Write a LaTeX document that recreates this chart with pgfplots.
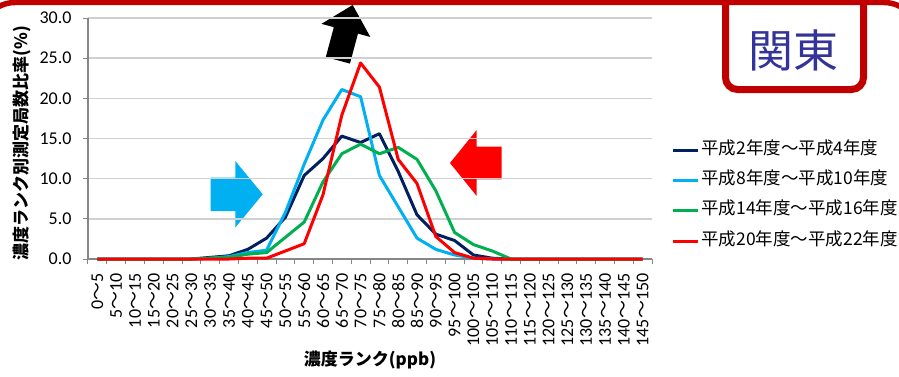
\documentclass[border=0pt]{standalone}
\usepackage{pgfplots}
\pgfplotsset{compat=1.18}
\usepackage{fontspec}
\setmainfont{Carlito}
\newfontfamily\jp{Noto Sans CJK JP}
\definecolor{framered}{HTML}{C00000}
\definecolor{navyline}{HTML}{002060}
\definecolor{skyline}{HTML}{00B0F0}
\definecolor{greenline}{HTML}{00B050}
\definecolor{redline}{HTML}{FF0000}
\definecolor{kanto}{HTML}{333399}
\definecolor{gridgray}{HTML}{D0D0D0}
\definecolor{axisgray}{HTML}{868686}
\newcommand\T{{\jp ～}}

\begin{document}
\begin{tikzpicture}[x=1pt,y=1pt]
\useasboundingbox (0,0) rectangle (899,376);
% region box
\draw[framered, line width=7pt, fill=white, rounded corners=12pt]
  (725.5,286.5) rectangle (863.5,420);
% outer frame (top edge only shows)
\draw[framered, line width=5.5pt, rounded corners=34pt]
  (-19,250) -- (-19,373.5) -- (918,373.5) -- (918,250);
\node[kanto, font=\jp\fontsize{45}{45}\selectfont] at (793,326) {関東};

% trend arrows
\fill[skyline] (210.7,198.3) -- (235.3,198.3) -- (235.3,215) -- (262.7,181.7)
  -- (235.3,148.5) -- (235.3,165) -- (210.7,165) -- cycle;
\fill[redline] (501.7,229.3) -- (476.7,229.3) -- (476.7,246) -- (450,213)
  -- (476.7,180) -- (476.7,196.7) -- (501.7,196.7) -- cycle;
\begin{scope}[shift={(345.9,345.6)}, rotate=-15]
  \fill[black] (-12.5,0) -- (-25.3,0) -- (0,26.3) -- (25.3,0) -- (12.5,0)
    -- (12.5,-31) -- (-12.5,-31) -- cycle;
\end{scope}

\begin{axis}[
  at={(88pt,117pt)}, anchor=south west,
  scale only axis, width=564pt, height=241pt,
  xmin=-0.5, xmax=29.5, ymin=0, ymax=30,
  clip=false,
  axis x line*=bottom, axis y line*=left,
  axis line style={axisgray, line width=1.2pt},
  xtick={0,...,29},
  xticklabels={0\T5,5\T10,10\T15,15\T20,20\T25,25\T30,30\T35,35\T40,40\T45,45\T50,
    50\T55,55\T60,60\T65,65\T70,70\T75,75\T80,80\T85,85\T90,90\T95,95\T100,
    100\T105,105\T110,110\T115,115\T120,120\T125,125\T130,130\T135,135\T140,140\T145,145\T150},
  minor xtick={-0.5,0.5,...,29.5},
  ytick={0,5,...,30},
  major x tick style={draw=none},
  tick align=outside,
  major tick length=5pt, minor tick length=5pt,
  tick style={axisgray, line width=1pt},
  ymajorgrids,
  major grid style={gridgray, line width=1.6pt},
  /pgf/number format/assume math mode=true,
  y tick label style={/pgf/number format/fixed, /pgf/number format/fixed zerofill,
    /pgf/number format/precision=1},
  tick label style={font=\fontsize{18}{18}\selectfont},
  x tick label style={rotate=90, anchor=east},
  xticklabel shift=6pt,
  yticklabel shift=8pt,
  xlabel={\jp\bfseries 濃度ランク(ppb)},
  ylabel={\jp\bfseries 濃度ランク別測定局数比率(\%)},
  label style={font=\jp\bfseries\fontsize{17}{18}\selectfont},
  xlabel style={at={(axis description cs:0.5,-0.42)}, anchor=center},
  ylabel style={at={(axis description cs:-0.117,0.48)}, anchor=center, rotate=0},
  no markers,
  legend cell align=left,
  legend image code/.code={\draw[#1, line width=3pt] (0pt,0pt) -- (25pt,0pt);},
  legend style={draw=none, fill=none, inner sep=0pt,
    at={(axis description cs:1.034,0.49)}, anchor=north west,
    font=\jp\fontsize{17.5}{18}\selectfont,
    nodes={inner sep=1pt, text height=12pt, text depth=4pt},
    row sep=12.3pt,
    /tikz/every odd column/.append style={column sep=1pt}},
]
\addplot[navyline, line width=3pt, line join=round] coordinates {
 (0,0) (1,0) (2,0) (3,0) (4,0) (5,0) (6,0.2) (7,0.4) (8,1.2) (9,2.6)
 (10,5.2) (11,10.4) (12,12.5) (13,15.3) (14,14.5) (15,15.6) (16,10.9) (17,5.5) (18,3.1) (19,2.3)
 (20,0.5) (21,0.1) (22,0) (23,0) (24,0) (25,0) (26,0) (27,0) (28,0) (29,0)};
\addplot[skyline, line width=3pt, line join=round] coordinates {
 (0,0) (1,0) (2,0) (3,0) (4,0) (5,0) (6,0.1) (7,0.3) (8,0.8) (9,1.1)
 (10,5.8) (11,11.8) (12,17.3) (13,21.1) (14,20.2) (15,10.4) (16,6.5) (17,2.6) (18,1.2) (19,0.5)
 (20,0.1) (21,0) (22,0) (23,0) (24,0) (25,0) (26,0) (27,0) (28,0) (29,0)};
\addplot[greenline, line width=3pt, line join=round] coordinates {
 (0,0) (1,0) (2,0) (3,0) (4,0) (5,0) (6,0.1) (7,0.2) (8,0.6) (9,0.8)
 (10,2.7) (11,4.6) (12,9.6) (13,13.1) (14,14.3) (15,13.1) (16,13.9) (17,12.4) (18,8.5) (19,3.3)
 (20,1.8) (21,1.0) (22,0) (23,0) (24,0) (25,0) (26,0) (27,0) (28,0) (29,0)};
\addplot[redline, line width=3pt, line join=round] coordinates {
 (0,0) (1,0) (2,0) (3,0) (4,0) (5,0) (6,0) (7,0) (8,0.1) (9,0.1)
 (10,1.0) (11,1.9) (12,8.0) (13,17.9) (14,24.4) (15,21.4) (16,12.4) (17,9.4) (18,2.8) (19,0.8)
 (20,0.1) (21,0) (22,0) (23,0) (24,0) (25,0) (26,0) (27,0) (28,0) (29,0)};
\legend{平成2年度～平成4年度, 平成8年度～平成10年度, 平成14年度～平成16年度, 平成20年度～平成22年度}
\end{axis}
\end{tikzpicture}
\end{document}
